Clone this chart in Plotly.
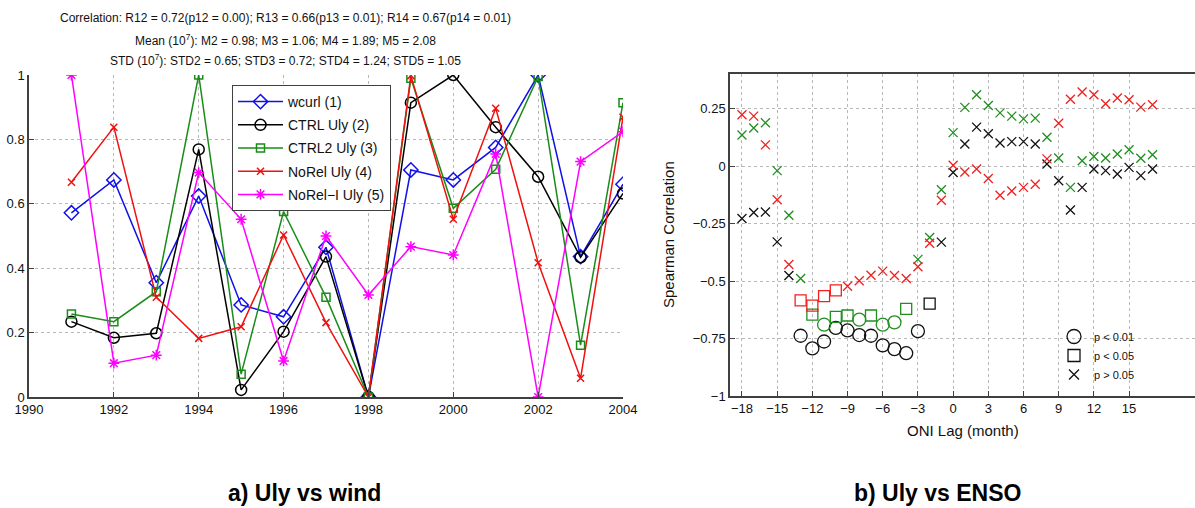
import plotly.graph_objects as go

# ---------------- Panel a) data ----------------
years = list(range(1991, 2005))
wcurl = [0.572, 0.674, 0.355, 0.624, 0.286, 0.249, 0.465, 0.0, 0.705, 0.674, 0.775, 1.0, 0.436, 0.661]
ctrl_uly = [0.234, 0.184, 0.198, 0.769, 0.022, 0.203, 0.436, 0.0, 0.914, 1.0, 0.838, 0.684, 0.434, 0.632]
ctrl2_uly = [0.258, 0.234, 0.327, 1.0, 0.071, 0.576, 0.31, 0.0, 0.99, 0.586, 0.707, 0.995, 0.161, 0.914]
norel_uly = [0.667, 0.838, 0.31, 0.182, 0.218, 0.503, 0.231, 0.0, 0.998, 0.552, 0.897, 0.417, 0.058, 0.869]
noreli_uly = [1.0, 0.105, 0.13, 0.697, 0.552, 0.112, 0.5, 0.317, 0.467, 0.441, 0.755, 0.0, 0.731, 0.824]
series_names = ["wcurl (1)", "CTRL Uly (2)", "CTRL2 Uly (3)", "NoRel Uly (4)", "NoRel\u2212I Uly (5)"]
left_xticks = list(range(1990, 2005, 2))
left_yticks = [0, 0.2, 0.4, 0.6, 0.8, 1]

# ---------------- Panel b) data ----------------
lags = list(range(-18, 18))
corr_black = [-0.228, -0.202, -0.20, -0.33, -0.476, -0.738, -0.793, -0.763, -0.704, -0.715, -0.735, -0.738,
              -0.78, -0.796, -0.814, -0.718, -0.598, -0.331, -0.028, 0.096, 0.169, 0.14, 0.1, 0.106,
              0.106, 0.096, 0.009, -0.064, -0.191, -0.093, -0.013, -0.02, -0.035, -0.006, -0.042, -0.013]
corr_green = [0.135, 0.165, 0.188, -0.02, -0.214, -0.489, -0.646, -0.69, -0.656, -0.65, -0.668, -0.65,
              -0.69, -0.68, -0.621, -0.406, -0.311, -0.103, 0.145, 0.255, 0.31, 0.263, 0.231, 0.217,
              0.205, 0.208, 0.125, 0.035, -0.093, 0.023, 0.041, 0.035, 0.052, 0.071, 0.034, 0.049]
corr_red = [0.223, 0.217, 0.092, -0.147, -0.428, -0.584, -0.607, -0.566, -0.541, -0.523, -0.499, -0.475,
            -0.457, -0.476, -0.489, -0.438, -0.336, -0.149, 0.003, -0.026, -0.013, -0.054, -0.127, -0.109,
            -0.093, -0.079, 0.031, 0.186, 0.29, 0.322, 0.31, 0.271, 0.296, 0.288, 0.256, 0.266]
# significance class per lag: o = p<0.01, s = p<0.05, x = p>0.05
sig_black = "xxxxx" + "ooooooooooo" + "s" + "x" * 19
sig_green = "xxxxxx" + "sossosoos" + "x" * 21
sig_red = "xxxxx" + "ssss" + "x" * 27
right_xticks = list(range(-18, 16, 3))
right_yticks = [-1, -0.75, -0.5, -0.25, 0, 0.25]
sig_labels = ["p < 0.01", "p < 0.05", "p > 0.05"]

W, H = 1195, 508
FONT = "Liberation Sans, Arial, Helvetica, sans-serif"

def px_x(p):
    return p / W

def px_y(p):
    return 1 - p / H

fig = go.Figure()

# ---- left panel traces ----
left_colors = ["#1010e8", "#000000", "#1a8c1a", "#f01010", "#ff00ff"]
left_symbols = ["diamond-open", "circle-open", "square-open", "x-thin-open", "asterisk-open"]
left_sizes = [11, 11, 8, 7, 9]
for i, (vals, name) in enumerate(zip([wcurl, ctrl_uly, ctrl2_uly, norel_uly, noreli_uly], series_names)):
    fig.add_trace(go.Scatter(
        x=years, y=vals, name=name, mode="lines+markers",
        line=dict(color=left_colors[i], width=1.5),
        marker=dict(symbol=left_symbols[i], size=left_sizes[i], color=left_colors[i], opacity=1,
                    line=dict(color=left_colors[i], width=1.5)),
        xaxis="x", yaxis="y", legend="legend", legendgroup=name,
    ))

# ---- right panel traces ----
sym_map = {"o": "circle-open", "s": "square-open", "x": "x-thin-open"}
size_map = {"o": 13, "s": 11, "x": 9}
for vals, sig, col in [(corr_black, sig_black, "#111111"), (corr_green, sig_green, "#1f8f1f"),
                       (corr_red, sig_red, "#f02020")]:
    fig.add_trace(go.Scatter(
        x=lags, y=vals, mode="markers", showlegend=False,
        marker=dict(symbol=[sym_map[c] for c in sig], size=[size_map[c] for c in sig], opacity=1,
                    color=col, line=dict(color=col, width=1.3)),
        xaxis="x2", yaxis="y2",
    ))

# ---- significance legend ----
for lab, c in zip(sig_labels, ["o", "s", "x"]):
    fig.add_trace(go.Scatter(
        x=[None], y=[None], mode="markers", name=lab, legend="legend2",
        marker=dict(symbol=sym_map[c], size=size_map[c] + 1, color="#111111", opacity=1,
                    line=dict(color="#111111", width=1.3)),
        xaxis="x2", yaxis="y2",
    ))

axis_common = dict(showline=True, linecolor="#404040", linewidth=1.5, ticks="inside", ticklen=5,
                   tickcolor="#404040", showgrid=True, gridcolor="#b8b8b8", griddash="dot",
                   gridwidth=1, zeroline=False, automargin=False,
                   tickfont=dict(family=FONT, size=13, color="#111"))

fig.update_layout(
    width=W, height=H, autosize=False,
    margin=dict(l=0, r=0, t=0, b=0),
    paper_bgcolor="white", plot_bgcolor="white",
    font=dict(family=FONT, color="#111"),
    xaxis=dict(domain=[px_x(29), px_x(623)], range=[1990, 2004], tickvals=left_xticks, anchor="y",
               **axis_common),
    yaxis=dict(domain=[px_y(397), px_y(75)], range=[0, 1], tickvals=left_yticks, anchor="x",
               **axis_common),
    xaxis2=dict(domain=[px_x(730), 1.0], range=[-19.02, 20.62], tickvals=right_xticks, anchor="y2",
                mirror=True, **axis_common),
    yaxis2=dict(domain=[px_y(396), px_y(74)], range=[-1, 0.4], tickvals=right_yticks, anchor="x2",
                **axis_common),
    legend=dict(x=px_x(232), y=px_y(85), xanchor="left", yanchor="top", bgcolor="white",
                bordercolor="#404040", borderwidth=1, font=dict(family=FONT, size=14, color="#111"),
                itemwidth=45, tracegroupgap=2),
    legend2=dict(x=px_x(1054), y=px_y(322), xanchor="left", yanchor="top", bgcolor="rgba(0,0,0,0)",
                 borderwidth=0, font=dict(family=FONT, size=11, color="#111"), itemwidth=30),
    showlegend=True,
)

title_lines = [
    ("Correlation: R12 = 0.72(p12 = 0.00); R13 = 0.66(p13 = 0.01); R14 = 0.67(p14 = 0.01)", 18),
    ("Mean (10<sup>7</sup>): M2 = 0.98; M3 = 1.06; M4 = 1.89; M5 = 2.08", 40),
    ("STD (10<sup>7</sup>): STD2 = 0.65; STD3 = 0.72; STD4 = 1.24; STD5 = 1.05", 60),
]
for txt, yp in title_lines:
    fig.add_annotation(text=txt, x=px_x(285), y=px_y(yp), xref="paper", yref="paper",
                       showarrow=False, xanchor="center", yanchor="middle",
                       font=dict(family=FONT, size=12, color="#111"))

fig.add_annotation(text="Spearman Correlation", x=px_x(668), y=px_y(235), xref="paper", yref="paper",
                   showarrow=False, textangle=-90, xanchor="center", yanchor="middle",
                   font=dict(family=FONT, size=15, color="#111"))
fig.add_annotation(text="ONI Lag (month)", x=px_x(963), y=px_y(430), xref="paper", yref="paper",
                   showarrow=False, xanchor="center", yanchor="middle",
                   font=dict(family=FONT, size=15, color="#111"))
fig.add_annotation(text="<b>a) Uly vs wind</b>", x=px_x(304), y=px_y(493), xref="paper", yref="paper",
                   showarrow=False, xanchor="center", yanchor="middle",
                   font=dict(family=FONT, size=23, color="#000"))
fig.add_annotation(text="<b>b) Uly vs ENSO</b>", x=px_x(937), y=px_y(493), xref="paper", yref="paper",
                   showarrow=False, xanchor="center", yanchor="middle",
                   font=dict(family=FONT, size=23, color="#000"))

# remove the default 8px page margin so the figure fills the window exactly; hide the modebar
fig.write_html("out.html", config={"displayModeBar": False},
               post_script="document.body.style.margin='0';")
